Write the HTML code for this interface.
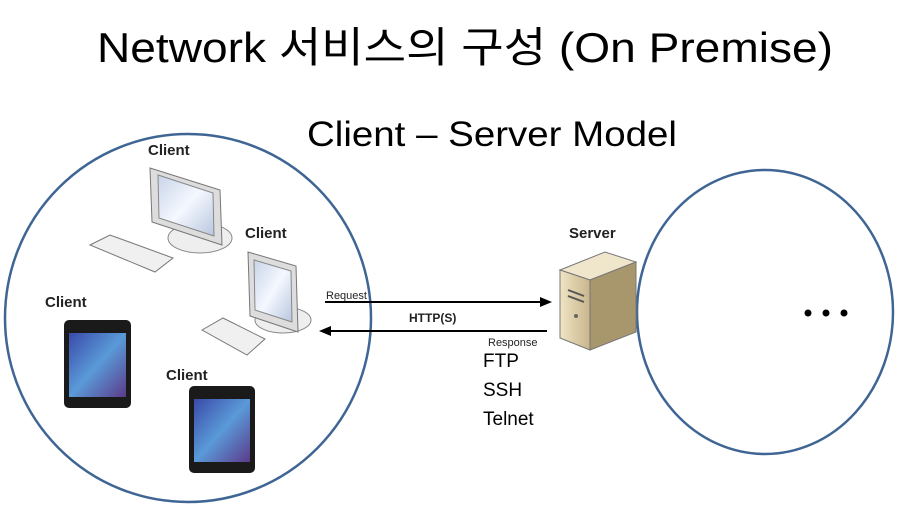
<!DOCTYPE html>
<html><head><meta charset="utf-8"><style>
body{margin:0;background:#fff;}
svg{display:block}
</style></head><body>
<svg width="904" height="510" viewBox="0 0 904 510" xmlns="http://www.w3.org/2000/svg">
<defs>
<linearGradient id="scr" x1="0" y1="0" x2="1" y2="1"><stop offset="0" stop-color="#c8d4e8"/><stop offset="0.5" stop-color="#f4f8ff"/><stop offset="1" stop-color="#b8c6de"/></linearGradient>
<linearGradient id="ph" x1="0" y1="0" x2="1" y2="1"><stop offset="0" stop-color="#3a4aa8"/><stop offset="0.5" stop-color="#5a9ad8"/><stop offset="1" stop-color="#5b3a8a"/></linearGradient>
<linearGradient id="srv" x1="0" y1="0" x2="1" y2="0"><stop offset="0" stop-color="#f0e4c4"/><stop offset="1" stop-color="#c8b68c"/></linearGradient>
</defs>
<text x="97" y="62" textLength="736" lengthAdjust="spacingAndGlyphs" font-family="Liberation Sans, 'Noto Sans CJK KR', sans-serif" font-size="42" fill="#000">Network 서비스의 구성 (On Premise)</text>
<text x="307" y="146" textLength="370" lengthAdjust="spacingAndGlyphs" font-family="Liberation Sans, sans-serif" font-size="35" fill="#000">Client – Server Model</text>
<ellipse cx="188" cy="318" rx="183" ry="184" fill="none" stroke="#3e6594" stroke-width="2.5"/>
<ellipse cx="765" cy="312" rx="128" ry="142" fill="none" stroke="#3e6594" stroke-width="2.5"/>
<circle cx="808" cy="313" r="3.5" fill="#000"/><circle cx="826" cy="313" r="3.5" fill="#000"/><circle cx="844" cy="313" r="3.5" fill="#000"/>
<g font-family="Liberation Sans, sans-serif" font-weight="bold" font-size="15" fill="#222">
<text x="148" y="155">Client</text><text x="245" y="238">Client</text><text x="45" y="307">Client</text><text x="166" y="380">Client</text><text x="569" y="238">Server</text>
</g>
<ellipse cx="200" cy="238" rx="32" ry="15" fill="#eee" stroke="#888"/>
<polygon points="150,168 220,190 222,245 152,222" fill="#ddd" stroke="#777"/>
<polygon points="158,175 213,193 214,236 159,218" fill="url(#scr)" stroke="#888"/>
<polygon points="90,245 110,235 173,258 155,272" fill="#f0f0f0" stroke="#777"/>
<ellipse cx="283" cy="320" rx="28" ry="13" fill="#eee" stroke="#888"/>
<polygon points="248,252 296,266 298,332 250,316" fill="#ddd" stroke="#777"/>
<polygon points="254,260 291,271 292,322 255,310" fill="url(#scr)" stroke="#888"/>
<polygon points="202,330 223,318 265,339 247,355" fill="#f0f0f0" stroke="#777"/>
<rect x="64" y="320" width="67" height="88" rx="5" fill="#1a1a1a"/>
<rect x="69" y="333" width="57" height="64" fill="url(#ph)"/>
<rect x="189" y="386" width="66" height="87" rx="5" fill="#1a1a1a"/>
<rect x="194" y="399" width="56" height="63" fill="url(#ph)"/>
<polygon points="560,270 605,252 636,262 590,280" fill="#efe6cc" stroke="#777"/>
<polygon points="590,280 636,262 636,332 590,350" fill="#a8966c" stroke="#777"/>
<polygon points="560,270 590,280 590,350 560,338" fill="url(#srv)" stroke="#777"/>
<line x1="568" y1="290" x2="584" y2="296" stroke="#555" stroke-width="2"/>
<line x1="568" y1="296" x2="584" y2="302" stroke="#555" stroke-width="2"/>
<circle cx="576" cy="316" r="2" fill="#666"/>
<line x1="325" y1="302" x2="542" y2="302" stroke="#000" stroke-width="2"/>
<polygon points="552,302 540,297 540,307" fill="#000"/>
<line x1="330" y1="331" x2="547" y2="331" stroke="#000" stroke-width="2"/>
<polygon points="319,331 331,326 331,336" fill="#000"/>
<g font-family="Liberation Sans, sans-serif" fill="#222">
<text x="326" y="299" font-size="11">Request</text>
<text x="409" y="322" font-size="12" font-weight="bold">HTTP(S)</text>
<text x="488" y="346" font-size="11">Response</text>
</g>
<g font-family="Liberation Sans, sans-serif" font-size="19" fill="#000">
<text x="483" y="367">FTP</text><text x="483" y="396">SSH</text><text x="483" y="425">Telnet</text>
</g>
</svg>
</body></html>
